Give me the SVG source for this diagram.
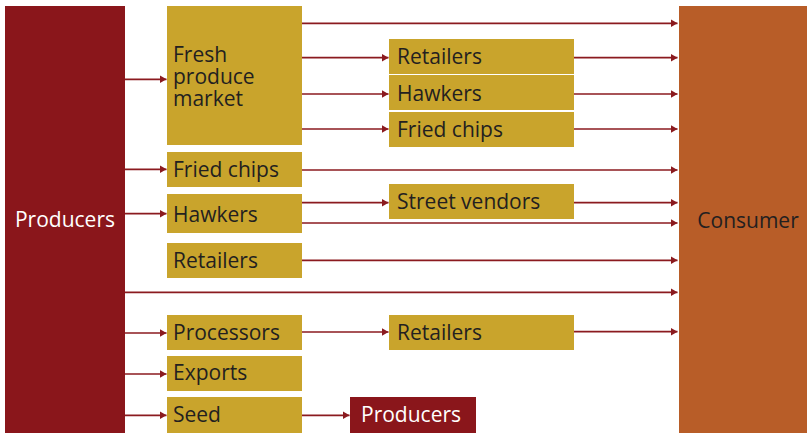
<svg xmlns="http://www.w3.org/2000/svg" width="807" height="433" viewBox="0 0 807 433">
<style>
.red{fill:#8A161B}
.gold{fill:#C9A42C}
.orange{fill:#B85D28}
.t{font-family:"Open Sans","Noto Sans","Liberation Sans",sans-serif;font-size:21px;fill:#231F20}
.w{fill:#FFFFFF}
.c line{stroke:#8B1A1F;stroke-width:1.7;marker-end:url(#ah)}
</style>
<defs>
<marker id="ah" markerUnits="userSpaceOnUse" markerWidth="8" markerHeight="9" refX="7" refY="4" orient="auto" viewBox="0 0 8 9">
<path d="M0,0 L7,4 L0,8 z" fill="#8B1A1F"/>
</marker>
</defs>
<g id="producers"><rect class="red" x="5" y="6" width="120" height="427"/><text class="t w" x="65" y="227" text-anchor="middle">Producers</text></g>
<g id="consumer"><rect class="orange" x="679" y="6" width="128" height="427"/><text class="t" x="748" y="228" text-anchor="middle">Consumer</text></g>
<g id="fresh"><rect class="gold" x="167" y="6" width="135" height="139"/><text class="t" x="173" y="62">Fresh</text><text class="t" x="173" y="84">produce</text><text class="t" x="173" y="106">market</text></g>
<g id="friedchips1"><rect class="gold" x="167" y="152" width="135" height="35"/><text class="t" x="173" y="177">Fried chips</text></g>
<g id="hawkers1"><rect class="gold" x="167" y="194" width="135" height="39"/><text class="t" x="173" y="222">Hawkers</text></g>
<g id="retailers1"><rect class="gold" x="167" y="243" width="135" height="35"/><text class="t" x="173" y="267.5">Retailers</text></g>
<g id="processors"><rect class="gold" x="167" y="315" width="135" height="35"/><text class="t" x="173" y="340">Processors</text></g>
<g id="exports"><rect class="gold" x="167" y="356" width="135" height="35"/><text class="t" x="173" y="380">Exports</text></g>
<g id="seed"><rect class="gold" x="167" y="397" width="135" height="36"/><text class="t" x="173" y="422">Seed</text></g>
<g id="retailers2"><rect class="gold" x="389" y="39" width="185" height="35"/><text class="t" x="397" y="64">Retailers</text></g>
<g id="hawkers2"><rect class="gold" x="389" y="75" width="185" height="35"/><text class="t" x="397" y="100.5">Hawkers</text></g>
<g id="friedchips2"><rect class="gold" x="389" y="112" width="185" height="35"/><text class="t" x="397" y="137">Fried chips</text></g>
<g id="streetvendors"><rect class="gold" x="389" y="184" width="185" height="35"/><text class="t" x="397" y="209">Street vendors</text></g>
<g id="retailers3"><rect class="gold" x="389" y="315" width="185" height="35"/><text class="t" x="397" y="340">Retailers</text></g>
<g id="producers2"><rect class="red" x="350" y="397" width="126" height="36"/><text class="t w" x="361" y="422">Producers</text></g>
<g id="connectors" class="c">
<line x1="125" y1="79.3" x2="166.5" y2="79.3"/>
<line x1="125" y1="169.3" x2="166.5" y2="169.3"/>
<line x1="125" y1="213.7" x2="166.5" y2="213.7"/>
<line x1="125" y1="292.3" x2="677.5" y2="292.3"/>
<line x1="125" y1="333" x2="166.5" y2="333"/>
<line x1="125" y1="374" x2="166.5" y2="374"/>
<line x1="125" y1="415.3" x2="166.5" y2="415.3"/>
<line x1="302" y1="23.3" x2="677.5" y2="23.3"/>
<line x1="302" y1="57.7" x2="388.5" y2="57.7"/>
<line x1="302" y1="94" x2="388.5" y2="94"/>
<line x1="302" y1="129" x2="388.5" y2="129"/>
<line x1="574" y1="57.7" x2="677.5" y2="57.7"/>
<line x1="574" y1="94" x2="677.5" y2="94"/>
<line x1="574" y1="129" x2="677.5" y2="129"/>
<line x1="302" y1="170" x2="677.5" y2="170"/>
<line x1="302" y1="202.7" x2="388.5" y2="202.7"/>
<line x1="574" y1="202.7" x2="677.5" y2="202.7"/>
<line x1="302" y1="223" x2="677.5" y2="223"/>
<line x1="302" y1="260.3" x2="677.5" y2="260.3"/>
<line x1="302" y1="332" x2="388.5" y2="332"/>
<line x1="574" y1="331.7" x2="677.5" y2="331.7"/>
<line x1="302" y1="415.3" x2="349.5" y2="415.3"/>
</g>
</svg>
